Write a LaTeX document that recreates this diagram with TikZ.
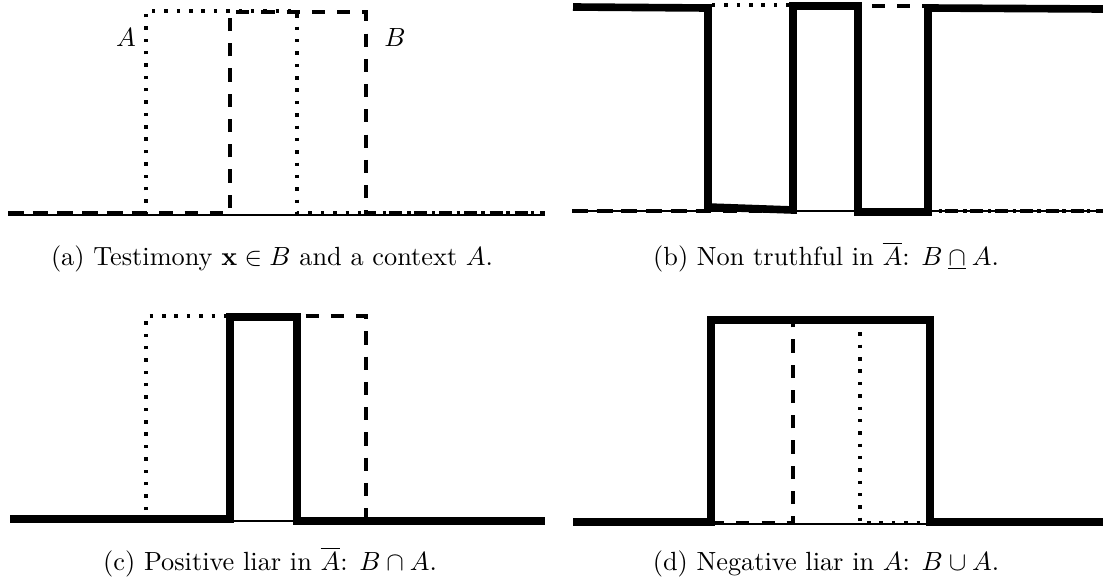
\documentclass[tikz,border=0pt]{standalone}
\usepackage{amsmath}
\begin{document}
\begin{tikzpicture}[x=0.01336cm,y=-0.01336cm,
  axisline/.style={line width=0.4pt},
  setA/.style={line width=1.7pt,dash pattern=on 1.3pt off 3.4pt},
  setB/.style={line width=1.7pt,dash pattern=on 5pt off 4.6pt},
  result/.style={line width=2.9pt,line join=miter},
  caption/.style={anchor=base,inner sep=0pt,font=\normalsize},
  setlabel/.style={inner sep=0pt,font=\normalsize}]
\useasboundingbox (0,0) rectangle (1103,586);

% ---------- (a) ----------
\draw[axisline] (8,215) -- (545,215);
\draw[setA] (8,213) -- (146,213) -- (146,11) -- (297,11) -- (297,213) -- (545,213);
\draw[setB] (8,213) -- (230,213) -- (230,12) -- (366,12) -- (366,213) -- (545,213);
\node[setlabel] (labA) at (126,38) {$A$};
\node[setlabel] (labB) at (395,38) {$B$};
\node[caption] (capa) at (272,265) {(a) Testimony $\mathbf{x}\in B$ and a context $A$.};

% ---------- (b) ----------
\draw[axisline] (572,211) -- (1103,211);
\draw[setA] (572,211) -- (708,211) -- (708,5) -- (858,5) -- (858,211) -- (1103,211);
\draw[setB] (572,211) -- (793,211) -- (793,6) -- (928,6) -- (928,211) -- (1103,211);
\draw[result] (573,7) -- (708,8) -- (708,207) -- (793,210) -- (793,6) -- (858,6) -- (858,212) -- (928,212) -- (928,8) -- (1103,9);
\node[caption] (capb) at (826,265) {(b) Non truthful in $\overline{A}$: $B\mathbin{\underline{\cap}}A$.};

% ---------- (c) ----------
\draw[axisline] (10,521) -- (545,521);
\draw[setA] (146,510) -- (146,316) -- (297,316);
\draw[setB] (230,316) -- (366,316) -- (366,520);
\draw[result] (10,519) -- (230,519) -- (230,317) -- (297,317) -- (297,521) -- (545,521);
\node[caption] (capc) at (270,570) {(c) Positive liar in $\overline{A}$: $B\cap A$.};

% ---------- (d) ----------
\draw[axisline] (573,524) -- (1103,524);
\draw[setA] (860,320) -- (860,523) -- (930,523);
\draw[setB] (711,523) -- (793,523) -- (793,320);
\draw[result] (573,522) -- (711,522) -- (711,320) -- (930,320) -- (930,522) -- (1103,522);
\node[caption] (capd) at (826,570) {(d) Negative liar in $A$: $B\cup A$.};
\end{tikzpicture}
\end{document}
